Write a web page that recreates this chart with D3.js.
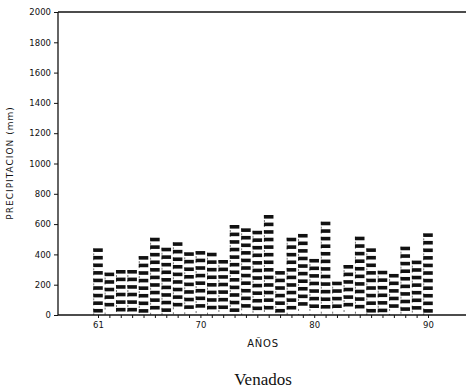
<!DOCTYPE html>
<html>
<head>
<meta charset="utf-8">
<script src="https://cdn.jsdelivr.net/npm/d3@7"></script>
<style>
  body { margin: 0; background: #fff; }
  svg { display: block; }
  text { fill: #111; }
</style>
</head>
<body>
<svg id="chart" width="466" height="391"></svg>
<script>
(function () {

  'use strict';

  // yearly rainfall, Venados station
  var YEARS = [1961, 1962, 1963, 1964, 1965, 1966, 1967, 1968, 1969, 1970,
    1971, 1972, 1973, 1974, 1975, 1976, 1977, 1978, 1979, 1980,
    1981, 1982, 1983, 1984, 1985, 1986, 1987, 1988, 1989, 1990];
  var RAIN = [440, 280, 297, 297, 389, 510, 444, 480, 414, 422,
    411, 363, 594, 572, 556, 660, 290, 510, 535, 370,
    616, 220, 330, 517, 440, 292, 271, 451, 359, 539];
  var Y_TICKS = [0, 200, 400, 600, 800, 1000, 1200, 1400, 1600, 1800, 2000];
  var X_LABELS = [1961, 1970, 1980, 1990];

  var width = 466;
  var left = 58; // y axis position
  var stripeStep = 50; // each hatch stripe stands for 50 mm
  var ink = '#111';

  var svg = d3.select('#chart');

  var x = d3.scaleLinear().domain([1961, 1990]).range([98, 428]);
  var y = d3.scaleLinear().domain([0, 2000]).range([315, 12]);
  var barWidth = (x(1962) - x(1961)) * 0.84;

  // ----------- AXES --------------

  var yAxis = d3.axisLeft(y)
    .tickValues(Y_TICKS)
    .tickSize(4)
    .tickPadding(3)
    .tickFormat(d3.format('d'));

  svg.append('g')
    .attr('class', 'y axis')
    .attr('transform', 'translate(' + left + ',0)')
    .call(yAxis);

  var xAxis = d3.axisBottom(x)
    .tickValues(YEARS)
    .tickSize(3)
    .tickPadding(4)
    .tickFormat(function (d) {
      return X_LABELS.indexOf(d) >= 0 ? String(d).slice(2) : '';
    });

  svg.append('g')
    .attr('class', 'x axis')
    .attr('transform', 'translate(0,' + y(0) + ')')
    .call(xAxis);

  svg.selectAll('.axis .domain').remove();
  svg.selectAll('.axis line').attr('stroke', ink).attr('stroke-width', 1);
  svg.selectAll('.axis text')
    .attr('font-family', 'DejaVu Sans')
    .attr('font-size', 8.5)
    .attr('fill', ink);

  // frame lines: left, bottom, top (right side runs off the page)
  svg.append('line')
    .attr('x1', left).attr('x2', left)
    .attr('y1', y(2000)).attr('y2', y(0))
    .attr('stroke', ink).attr('stroke-width', 1.3);
  svg.append('line')
    .attr('x1', left).attr('x2', width)
    .attr('y1', y(0)).attr('y2', y(0))
    .attr('stroke', ink).attr('stroke-width', 1.3);
  svg.append('line')
    .attr('x1', left).attr('x2', width)
    .attr('y1', y(2000)).attr('y2', y(2000))
    .attr('stroke', ink).attr('stroke-width', 1.3);

  // ----------- HATCHED BARS --------------

  var stripePx = y(0) - y(stripeStep);
  var stripeH = 3.6;

  var bars = svg.append('g')
    .selectAll('g')
    .data(YEARS)
    .enter()
    .append('g')
    .attr('class', 'bar');

  bars.selectAll('rect')
    .data(function (d, i) {
      var top = y(RAIN[i]);
      var out = [];
      var k;
      for (k = 0; top + k * stripePx + stripeH <= y(0) - 2; k++) {
        out.push({ year: d, y: top + k * stripePx });
      }
      return out;
    })
    .enter()
    .append('rect')
    .attr('x', function (s) { return x(s.year) - barWidth / 2; })
    .attr('y', function (s) { return s.y; })
    .attr('width', barWidth)
    .attr('height', stripeH)
    .attr('fill', ink);

  // thin side edges of each bar
  bars.append('line')
    .attr('x1', function (d) { return x(d) - barWidth / 2 + 0.5; })
    .attr('x2', function (d) { return x(d) - barWidth / 2 + 0.5; })
    .attr('y1', function (d, i) { return y(RAIN[i]); })
    .attr('y2', y(0))
    .attr('stroke', ink)
    .attr('stroke-width', 0.6)
    .attr('stroke-dasharray', '2,3');

  // ----------- TITLES --------------

  svg.append('text')
    .attr('transform', 'translate(13,163) rotate(-90)')
    .attr('text-anchor', 'middle')
    .attr('font-family', 'DejaVu Sans')
    .attr('font-size', 9)
    .attr('letter-spacing', 1)
    .text('PRECIPITACION (mm)');

  svg.append('text')
    .attr('x', 263)
    .attr('y', 347)
    .attr('text-anchor', 'middle')
    .attr('font-family', 'DejaVu Sans')
    .attr('font-size', 10)
    .attr('letter-spacing', 0.8)
    .text('AÑOS');

  svg.append('text')
    .attr('x', 263)
    .attr('y', 385)
    .attr('text-anchor', 'middle')
    .attr('font-family', 'Liberation Serif')
    .attr('font-size', 17)
    .text('Venados');

})();
</script>
</body>
</html>
